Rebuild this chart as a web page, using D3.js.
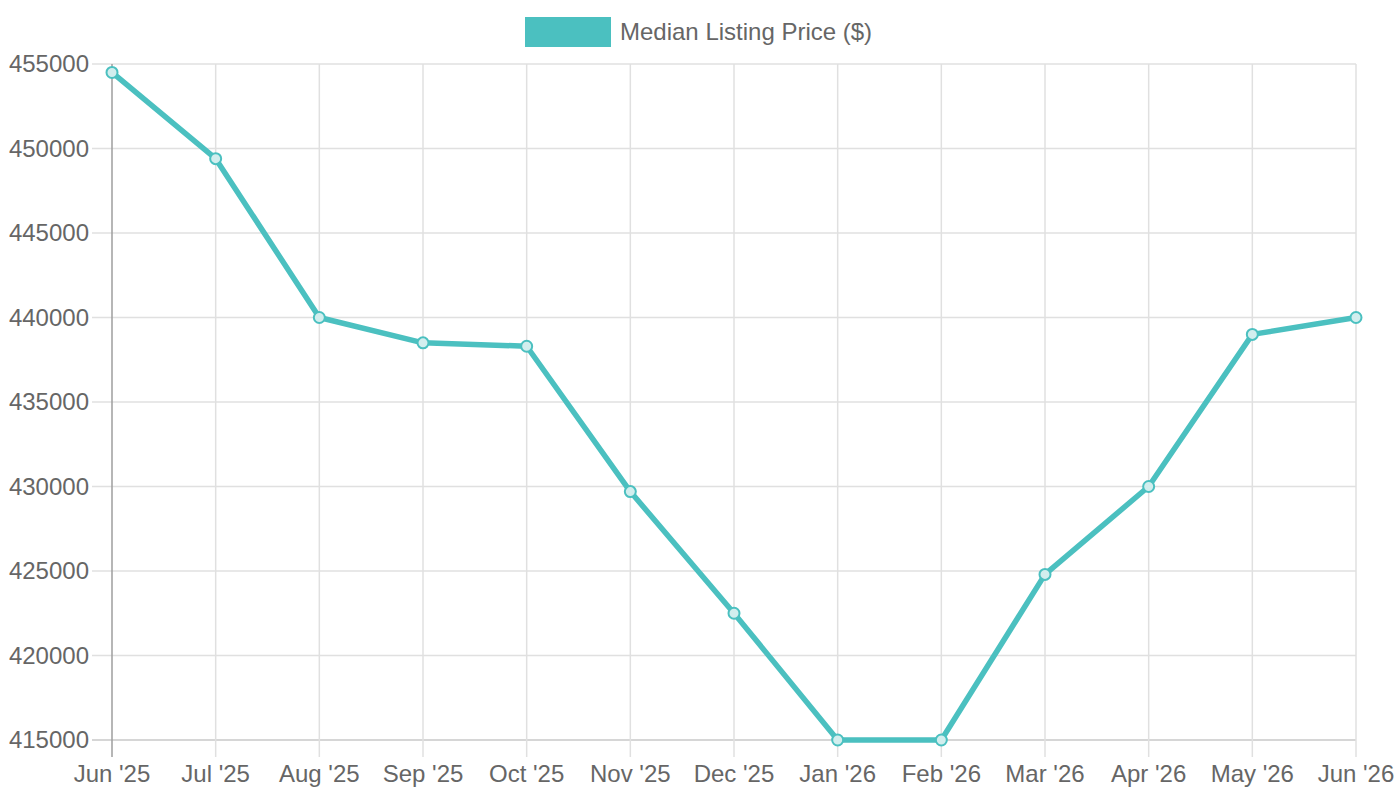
<!DOCTYPE html>
<html><head><meta charset="utf-8">
<script src="https://cdn.jsdelivr.net/npm/d3@7"></script>
<style>body{margin:0;background:#fff;} svg{display:block;font-family:"Liberation Sans",Arial,sans-serif;}</style>
</head><body>
<svg id="c" width="1400" height="800"></svg>
<script>
const months = ["Jun '25","Jul '25","Aug '25","Sep '25","Oct '25","Nov '25","Dec '25","Jan '26","Feb '26","Mar '26","Apr '26","May '26","Jun '26"];
const prices = [454500,449400,440000,438500,438300,429700,422500,415000,415000,424800,430000,439000,440000];
const yTicks = [415000,420000,425000,430000,435000,440000,445000,450000,455000];
const seriesName = "Median Listing Price ($)";

const svg = d3.select("#c");
const L=112, R=1356, T=64, B=740;
const x = d3.scalePoint().domain(months).range([L,R]);
const y = d3.scaleLinear().domain([415000,455000]).range([B,T]);
const col = "#4bc0c0";

// gridlines
const g = svg.append("g");
g.selectAll(".hg").data(yTicks).join("line")
  .attr("x1",L-20).attr("x2",R).attr("y1",d=>y(d)).attr("y2",d=>y(d))
  .attr("stroke",d=>d===415000?"#c8c8c8":"#e0e0e0").attr("stroke-width",1.5);
g.selectAll(".vg").data(months).join("line")
  .attr("x1",d=>x(d)).attr("x2",d=>x(d)).attr("y1",T).attr("y2",B+17)
  .attr("stroke",(d,i)=>i===0?"#9e9e9e":"#e0e0e0").attr("stroke-width",1.5);

// axis labels
svg.append("g").selectAll("text").data(yTicks).join("text")
  .attr("x",89).attr("y",d=>y(d)).attr("dy","0.35em").attr("text-anchor","end")
  .attr("font-size",24).attr("fill","#666").text(d=>d);
svg.append("g").selectAll("text").data(months).join("text")
  .attr("x",d=>x(d)).attr("y",782).attr("text-anchor","middle")
  .attr("font-size",24).attr("fill","#666").text(d=>d);

// line
const line = d3.line().x((d,i)=>x(months[i])).y(d=>y(d));
svg.append("path").datum(prices).attr("d",line).attr("fill","none")
  .attr("stroke",col).attr("stroke-width",5.5).attr("stroke-linejoin","round");
svg.append("g").selectAll("circle").data(prices).join("circle")
  .attr("cx",(d,i)=>x(months[i])).attr("cy",d=>y(d)).attr("r",5.5)
  .attr("fill","#d2eeee").attr("stroke",col).attr("stroke-width",2);

// legend
svg.append("rect").attr("x",525).attr("y",17).attr("width",86).attr("height",30).attr("fill",col);
svg.append("text").attr("x",620).attr("y",32).attr("dy","0.35em").attr("font-size",24)
  .attr("fill","#666").text(seriesName);
</script>
</body></html>
